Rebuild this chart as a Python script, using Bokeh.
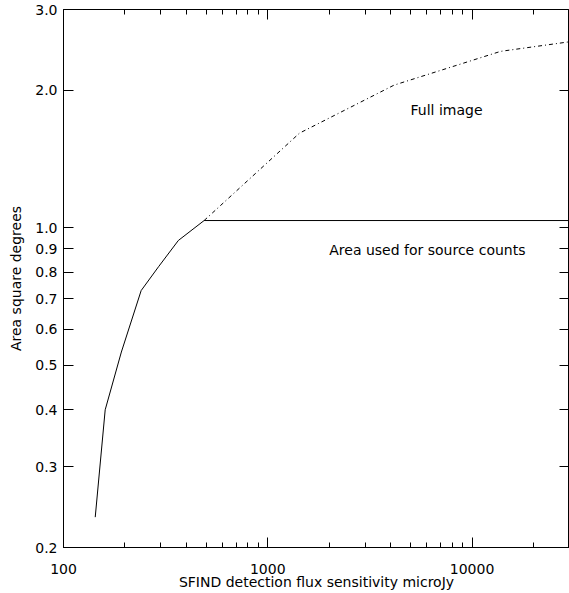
from bokeh.plotting import figure
from bokeh.models import (Range1d, FixedTicker, PrintfTickFormatter, LogAxis, Label)
from bokeh.embed import file_html
from bokeh.resources import INLINE

# ---- data ----
flux_used = [143, 160, 192, 240, 292, 365, 488, 30000]
area_used = [0.233, 0.40, 0.535, 0.729, 0.822, 0.938, 1.037, 1.037]

flux_full = [488, 1430, 4150, 13800, 30000]
area_full = [1.037, 1.61, 2.05, 2.43, 2.55]

x_major = [100, 1000, 10000]
x_minor = [200, 300, 400, 500, 600, 700, 800, 900,
           2000, 3000, 4000, 5000, 6000, 7000, 8000, 9000,
           20000, 30000]
y_major = [0.2, 0.3, 0.4, 0.5, 0.6, 0.7, 0.8, 0.9, 1.0, 2.0, 3.0]

FONT = "DejaVu Sans"
FS = "14px"

p = figure(width=569, height=593, x_axis_type="log", y_axis_type="log",
           x_range=Range1d(100, 30000), y_range=Range1d(0.2, 3.0),
           output_backend="svg", toolbar_location=None,
           min_border_left=63, min_border_right=0, min_border_top=9,
           min_border_bottom=46)
p.background_fill_color = "white"
p.border_fill_color = "white"
p.outline_line_color = "black"
p.outline_line_width = 1
p.xgrid.visible = False
p.ygrid.visible = False

# bottom axis
xa = p.xaxis[0]
xa.ticker = FixedTicker(ticks=x_major, minor_ticks=x_minor)
xa.formatter = PrintfTickFormatter(format="%d")
xa.axis_label = "SFIND detection flux sensitivity microJy"
xa.major_tick_in = 10
xa.major_tick_out = 0
xa.minor_tick_in = 5
xa.minor_tick_out = 0
xa.major_label_standoff = 16
xa.axis_label_standoff = -3
xa.axis_line_color = "black"
xa.major_tick_line_color = "black"
xa.minor_tick_line_color = "black"
xa.major_label_text_font = FONT
xa.major_label_text_font_size = FS
xa.major_label_text_color = "black"
xa.axis_label_text_font = FONT
xa.axis_label_text_font_size = FS
xa.axis_label_text_font_style = "normal"
xa.axis_label_text_color = "black"

# left axis
ya = p.yaxis[0]
ya.ticker = FixedTicker(ticks=y_major, minor_ticks=[])
ya.formatter = PrintfTickFormatter(format="%.1f")
ya.axis_label = "Area square degrees"
ya.major_tick_in = 10
ya.major_tick_out = 0
ya.minor_tick_in = 0
ya.minor_tick_out = 0
ya.major_label_standoff = 6
ya.axis_label_standoff = 8
ya.axis_line_color = "black"
ya.major_tick_line_color = "black"
ya.major_label_text_font = FONT
ya.major_label_text_font_size = FS
ya.major_label_text_color = "black"
ya.axis_label_text_font = FONT
ya.axis_label_text_font_size = FS
ya.axis_label_text_font_style = "normal"
ya.axis_label_text_color = "black"

# mirrored top / right axes (ticks only)
top = LogAxis(ticker=FixedTicker(ticks=x_major, minor_ticks=x_minor),
              fixed_location=3.0, major_tick_in=10, major_tick_out=0,
              minor_tick_in=5, minor_tick_out=0,
              major_label_text_color=None, axis_line_color="black")
p.add_layout(top, "above")
right = LogAxis(ticker=FixedTicker(ticks=y_major, minor_ticks=[]),
                fixed_location=30000, major_tick_in=10, major_tick_out=0,
                minor_tick_in=0, minor_tick_out=0,
                major_label_text_color=None, axis_line_color="black")
p.add_layout(right, "right")

# curves
p.line(flux_full, area_full, line_color="black", line_width=1,
       line_dash="4 3 1 3")
p.line(flux_used, area_used, line_color="black", line_width=1)

p.add_layout(Label(x=5000, y=1.81, text="Full image", text_font=FONT,
                   text_font_size=FS, text_color="black",
                   text_baseline="alphabetic"))
p.add_layout(Label(x=2000, y=0.896, text="Area used for source counts",
                   text_font=FONT, text_font_size=FS, text_color="black",
                   text_baseline="alphabetic"))

open("out.html", "w").write(file_html(p, INLINE))
